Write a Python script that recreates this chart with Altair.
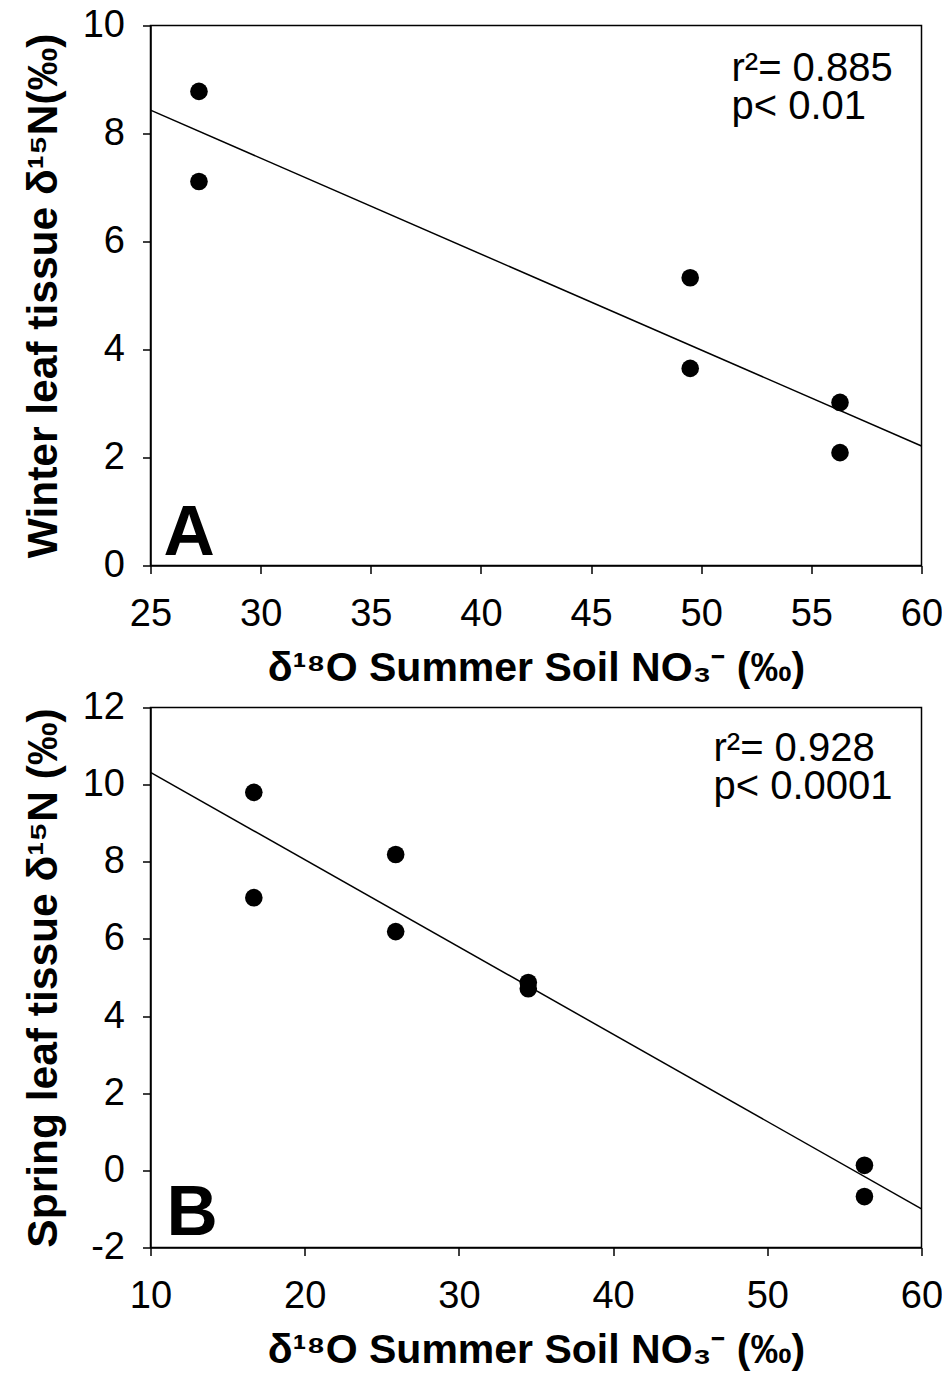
import altair as alt
import pandas as pd

# Panel A data
a_x = [27.2, 27.2, 49.5, 49.5, 56.3, 56.3]
a_y = [8.78, 7.11, 5.33, 3.65, 3.02, 2.09]
# Panel B data
b_x = [16.7, 16.7, 25.9, 25.9, 34.5, 34.5, 56.3, 56.3]
b_y = [9.80, 7.07, 8.19, 6.19, 4.87, 4.71, 0.13, -0.68]

a_x_domain = [25, 60]
a_y_domain = [0, 10]
b_x_domain = [10, 60]
b_y_domain = [-2, 12]
a_x_ticks = [25, 30, 35, 40, 45, 50, 55, 60]
a_y_ticks = [0, 2, 4, 6, 8, 10]
b_x_ticks = [10, 20, 30, 40, 50, 60]
b_y_ticks = [-2, 0, 2, 4, 6, 8, 10, 12]

a_stats = ["r²= 0.885", "p< 0.01"]
b_stats = ["r²= 0.928", "p< 0.0001"]
x_title = "δ¹⁸O Summer Soil NO₃⁻ (‰)"
a_y_title = "Winter leaf tissue δ¹⁵N(‰)"
b_y_title = "Spring leaf tissue δ¹⁵N (‰)"

FONT = "Liberation Sans"


def panel(xs, ys, xdom, ydom, xticks, yticks, ytitle, stats, letter,
          stats_pos, letter_pos):
    df = pd.DataFrame({"x": xs, "y": ys})
    xenc = alt.X("x:Q", scale=alt.Scale(domain=xdom, nice=False, zero=False),
                 axis=alt.Axis(values=xticks, title=x_title, labelFlush=False,
                               labelExpr="'' + datum.value"))
    yenc = alt.Y("y:Q", scale=alt.Scale(domain=ydom, nice=False, zero=False),
                 axis=alt.Axis(values=yticks, title=ytitle, labelFlush=False,
                               labelExpr="'' + datum.value"))
    pts = alt.Chart(df).mark_circle(size=310, color="black", opacity=1).encode(x=xenc, y=yenc)
    line = (alt.Chart(df)
            .transform_regression("x", "y", extent=xdom)
            .mark_line(color="black", strokeWidth=1.5)
            .encode(x=alt.X("x:Q"), y=alt.Y("y:Q")))
    one = pd.DataFrame({"k": [0]})
    st = alt.Chart(one).mark_text(text=stats, align="left", baseline="alphabetic",
                                  font=FONT, fontSize=40, lineHeight=38, color="black").encode(
        x=alt.value(stats_pos[0]), y=alt.value(stats_pos[1]))
    lt = alt.Chart(one).mark_text(text=letter, align="left", baseline="alphabetic",
                                  font=FONT, fontSize=71, fontWeight="bold", color="black").encode(
        x=alt.value(letter_pos[0]), y=alt.value(letter_pos[1]))
    return alt.layer(line, pts, st, lt).properties(width=771, height=540)


pa = panel(a_x, a_y, a_x_domain, a_y_domain, a_x_ticks, a_y_ticks, a_y_title,
           a_stats, "A", (581, 55), (13, 529))
pb = panel(b_x, b_y, b_x_domain, b_y_domain, b_x_ticks, b_y_ticks, b_y_title,
           b_stats, "B", (563, 53.5), (16, 527))

chart = (alt.vconcat(pa, pb, spacing=142, bounds="flush")
         .properties(padding={"left": 12.5, "top": -2.5, "right": -1.5, "bottom": 5})
         .configure_view(stroke="black", strokeWidth=1.5)
         .configure_axis(grid=False, domainColor="black", domainWidth=1.5,
                         tickColor="black", tickWidth=1.5, tickSize=8,
                         labelFont=FONT, labelFontSize=38, labelColor="black",
                         titleFont=FONT, titleFontWeight="bold",
                         titleColor="black")
         .configure_axisX(labelPadding=22, titlePadding=15, titleFontSize=41)
         .configure_axisY(labelPadding=18, titlePadding=17, titleFontSize=42.5))

chart.save("out.html", embed_options={"renderer": "svg", "actions": False})
